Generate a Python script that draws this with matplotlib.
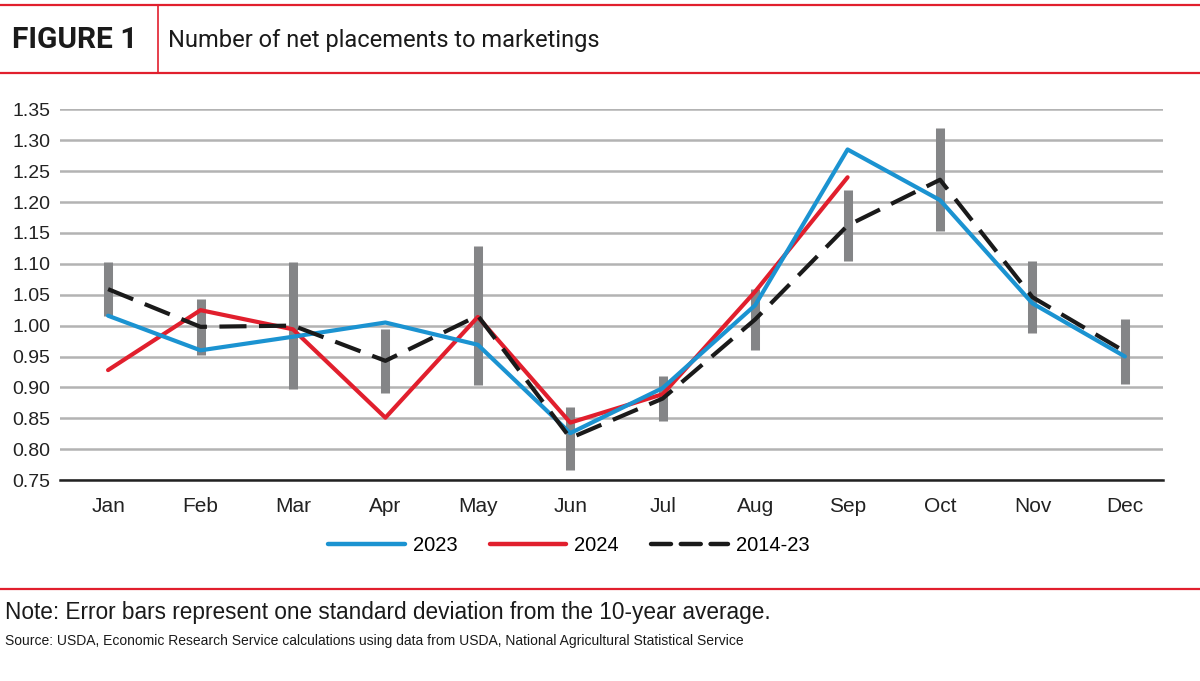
import matplotlib
matplotlib.use("Agg")
import matplotlib.pyplot as plt
from matplotlib.lines import Line2D

months = ["Jan", "Feb", "Mar", "Apr", "May", "Jun",
          "Jul", "Aug", "Sep", "Oct", "Nov", "Dec"]
y2023 = [1.016, 0.960, 0.982, 1.005, 0.969, 0.826,
         0.899, 1.033, 1.285, 1.203, 1.036, 0.950]
y2024 = [0.928, 1.025, 0.994, 0.851, 1.014, 0.843, 0.889, 1.055, 1.240]
avg = [1.059, 0.998, 1.000, 0.943, 1.016, 0.818,
       0.882, 1.010, 1.162, 1.236, 1.046, 0.958]
sd = [0.044, 0.045, 0.103, 0.052, 0.112, 0.051,
      0.036, 0.049, 0.058, 0.083, 0.058, 0.053]
yticks = [0.75, 0.80, 0.85, 0.90, 0.95, 1.00, 1.05,
          1.10, 1.15, 1.20, 1.25, 1.30, 1.35]

RED = "#e11f2d"
BLUE = "#1b93d1"
GRAY_BAR = "#848587"
GRID = "#b3b3b3"
INK = "#1a1a1a"

plt.rcParams["font.family"] = ["Liberation Sans", "DejaVu Sans"]

fig = plt.figure(figsize=(12, 6.81), dpi=100)
ax = fig.add_axes([0.05, 0.295, 0.919, 0.5445])

x = list(range(len(months)))
lo = [m - s for m, s in zip(avg, sd)]
hi = [m + s for m, s in zip(avg, sd)]
ax.vlines(x, lo, hi, color=GRAY_BAR, linewidth=6.5, zorder=2)
ax.plot(range(len(y2024)), y2024, color=RED, linewidth=3, zorder=3,
        solid_capstyle="round")
ax.plot(x, y2023, color=BLUE, linewidth=3, zorder=4, solid_capstyle="round")
ax.plot(x, avg, color=INK, linewidth=3, zorder=5, dashes=(6.5, 3))

ax.set_xlim(-0.52, 11.41)
ax.set_ylim(0.75, 1.35)
ax.set_yticks(yticks)
ax.set_yticklabels([f"{v:.2f}" for v in yticks])
ax.set_xticks(x)
ax.set_xticklabels(months)
ax.tick_params(axis="both", length=0, labelsize=14, colors="#222222")
ax.tick_params(axis="x", labelsize=15, pad=12)
ax.tick_params(axis="y", pad=7)
ax.grid(axis="y", color=GRID, linewidth=1.8, zorder=0)
ax.set_axisbelow(True)
for side in ("top", "right", "left"):
    ax.spines[side].set_visible(False)
ax.spines["bottom"].set_color("#222222")
ax.spines["bottom"].set_linewidth(1.8)
ax.spines["bottom"].set_zorder(1)

# legend proxies (the dashed one uses shorter dashes, as in the original)
handles = [
    Line2D([], [], color=BLUE, linewidth=3.2, solid_capstyle="round"),
    Line2D([], [], color=RED, linewidth=3.2, solid_capstyle="round"),
    Line2D([], [], color=INK, linewidth=3.2, dashes=(4.5, 2.2),
           dash_capstyle="round"),
]
fig.legend(handles, ["2023", "2024", "2014-23"],
           loc="center", bbox_to_anchor=(0.474, 0.199), ncol=3,
           frameon=False, fontsize=14.5, handlelength=3.8,
           handletextpad=0.4, columnspacing=1.6)

# header and footer rules
for yy in (0.9927, 0.8928, 0.135):
    fig.add_artist(Line2D([0, 1], [yy, yy], color=RED, linewidth=1.6,
                          transform=fig.transFigure))
fig.add_artist(Line2D([0.1317, 0.1317], [0.8928, 0.9927], color=RED,
                      linewidth=1.2, transform=fig.transFigure))

fig.text(0.01, 0.941, "FIGURE 1", fontsize=21.5, fontweight="bold",
         family=["Roboto", "DejaVu Sans"], va="center", color=INK)
fig.text(0.14, 0.941, "Number of net placements to marketings", fontsize=17,
         family=["Roboto", "DejaVu Sans"], va="center", color=INK)
fig.text(0.004, 0.0999,
         "Note: Error bars represent one standard deviation from the 10-year average.",
         fontsize=16.3, va="center", color=INK)
fig.text(0.004, 0.0587,
         "Source: USDA, Economic Research Service calculations using data from "
         "USDA, National Agricultural Statistical Service",
         fontsize=10, va="center", color=INK)

fig.savefig("out.png", dpi=100)
